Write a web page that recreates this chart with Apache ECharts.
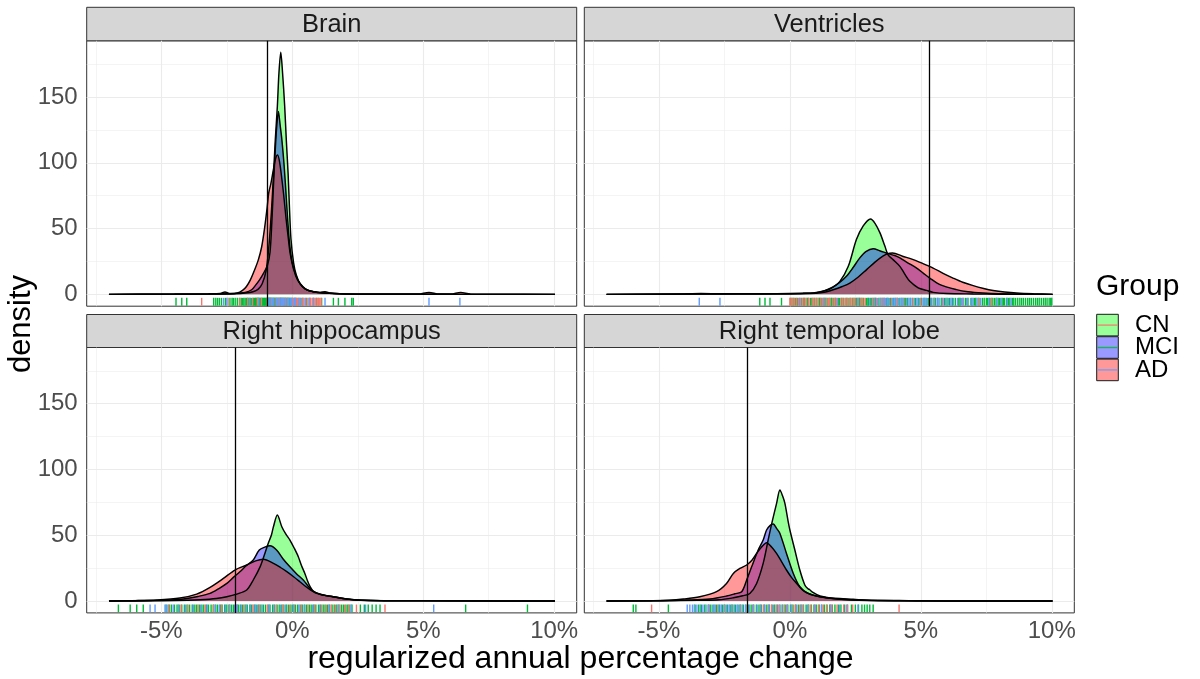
<!DOCTYPE html>
<html><head><meta charset="utf-8">
<script src="https://cdn.jsdelivr.net/npm/echarts@6/dist/echarts.min.js"></script>
<style>html,body{margin:0;padding:0;background:#fff}#c{width:1200px;height:679px}</style>
</head><body><div id="c"></div>
<script>
// ---------- data ----------
const panels = ['Brain', 'Ventricles', 'Right hippocampus', 'Right temporal lobe'];
const groups = ['CN', 'MCI', 'AD'];
const xTicks = [-5, 0, 5, 10];
const xMinor = [-7.5, -2.5, 2.5, 7.5];
const yTicks = [0, 50, 100, 150];
const yMinor = [25, 75, 125, 175];
const refLines = [-0.94, 5.34, -2.19, -1.64];

// density curves [percent change, density]
const brainCN = [[-7,0],[-5,0.1],[-3,0.2],[-2.2,0.5],[-1.8,1],[-1.5,2],[-1.3,4],[-1.15,8],[-1.0,18],[-0.9,35],[-0.8,62],[-0.72,90],[-0.65,117],[-0.57,143],[-0.51,168],[-0.44,184],[-0.37,168],[-0.29,143],[-0.23,118],[-0.16,92],[-0.11,67],[-0.05,42],[0.05,24],[0.15,15],[0.3,8],[0.5,4],[0.8,2],[1.2,1],[2,0.3],[4,0.1],[7,0],[10.03,0]];
const brainMCI = [[-7,0],[-5,0.1],[-3,0.3],[-2.2,0.7],[-1.8,1.5],[-1.55,3.5],[-1.4,7],[-1.25,11],[-1.1,16],[-0.95,22],[-0.85,32],[-0.78,55],[-0.72,82],[-0.66,106],[-0.6,126],[-0.53,139],[-0.46,128],[-0.4,118],[-0.32,100],[-0.25,80],[-0.18,58],[-0.1,38],[0.0,24],[0.15,14],[0.3,8],[0.5,4],[0.8,2],[1.2,1],[2,0.3],[4,0.1],[7,0],[10.03,0]];
const brainAD = [[-7,0],[-4.5,0.2],[-3.2,0.4],[-2.75,0.6],[-2.57,1.8],[-2.4,0.6],[-2.1,1.0],[-1.9,3],[-1.75,6],[-1.6,11],[-1.45,18],[-1.3,26],[-1.17,36],[-1.06,50],[-0.96,66],[-0.9,77],[-0.82,84],[-0.72,95],[-0.64,103],[-0.56,106],[-0.48,100],[-0.4,88],[-0.32,74],[-0.24,58],[-0.16,44],[-0.08,31],[0.05,19],[0.2,11],[0.4,6],[0.6,3],[0.85,2],[1.05,1.5],[1.25,2],[1.45,1],[1.8,0.5],[2.5,0.3],[4.8,0.2],[5.22,1.5],[5.6,0.2],[6.05,0.2],[6.43,1.5],[6.8,0.2],[8,0.1],[10.03,0]];

const ventCN = [[-7,0],[-4,0.2],[-2,0.4],[-0.5,0.5],[0.5,0.8],[0.9,1.1],[1.3,2.5],[1.59,4.8],[1.91,9.9],[2.23,21.3],[2.54,41.6],[2.8,52],[3.08,57.3],[3.25,54],[3.44,46.7],[3.63,36.5],[3.75,30],[3.94,26.4],[4.2,21.3],[4.4,15],[4.58,9.9],[4.9,5],[5.22,3],[5.47,1.5],[6,0.6],[7,0.3],[8,0.1],[10.03,0]];
const ventMCI = [[-7,0],[-4,0.3],[-3.4,0.6],[-2.6,0.5],[-1,0.4],[0,0.5],[0.6,0.8],[1.02,1.3],[1.35,3],[1.65,5.6],[1.9,9],[2.16,13.7],[2.4,20],[2.67,27.7],[2.9,32.5],[3.18,34.7],[3.45,33],[3.75,31],[4.0,29.5],[4.2,27.7],[4.5,24],[4.84,20],[5.1,16],[5.34,12.4],[5.73,7.4],[6.36,3.6],[6.8,2],[7.37,1],[8,0.4],[9,0.1],[10.03,0]];
const ventAD = [[-7,0],[-4,0.2],[-1,0.3],[0.3,0.5],[1.0,0.8],[1.3,1.5],[1.65,3.5],[2.0,6],[2.29,8.6],[2.6,13],[2.93,18.8],[3.25,24.5],[3.55,29],[3.73,31],[3.92,31.5],[4.3,29],[4.71,26.4],[5.1,23.2],[5.47,20],[5.85,16],[6.23,12.4],[6.6,9.2],[7.0,6.6],[7.4,4.5],[7.76,3],[8.2,1.8],[8.65,1],[9.3,0.4],[10.03,0]];

const hipCN = [[-7,0],[-5,0.2],[-4,0.6],[-3.52,1],[-2.9,2],[-2.5,3.3],[-2.12,5.3],[-1.74,8.4],[-1.49,16],[-1.23,26],[-1.05,36],[-0.92,43.8],[-0.8,50],[-0.72,56.5],[-0.57,65.4],[-0.4,56.5],[-0.25,51],[-0.09,46.4],[0.08,40],[0.23,33.7],[0.35,27],[0.48,21],[0.58,15.5],[0.68,10.9],[0.8,7.5],[0.93,5.8],[1.2,4.5],[1.56,3.3],[2.08,1.5],[2.6,0.6],[3.5,0.3],[5,0.2],[6.6,0.2],[8,0.1],[10.03,0]];
const hipMCI = [[-7,0],[-5.5,0.4],[-4.6,0.9],[-4.16,1.5],[-3.6,3.5],[-3.14,5.8],[-2.8,9.5],[-2.5,13.4],[-2.25,18],[-2.0,22.3],[-1.75,27],[-1.49,31.2],[-1.26,38.8],[-1.05,41],[-0.85,42],[-0.6,38.8],[-0.35,32],[-0.09,26],[0.15,21],[0.42,16],[0.6,11.5],[0.74,8.4],[1.06,5.1],[1.56,3.3],[2.0,1.8],[2.5,0.8],[3.5,0.3],[5.4,0.3],[7,0.1],[10.03,0]];
const hipAD = [[-7,0],[-6,0.3],[-5.18,0.8],[-4.29,2.3],[-3.65,5.3],[-3.14,10.4],[-2.63,17.2],[-2.19,23.6],[-1.74,27.4],[-1.4,30.5],[-1.1,31.7],[-0.72,28.6],[-0.45,25.5],[-0.21,22.3],[0.05,18.5],[0.29,14.7],[0.55,10.5],[0.8,7.1],[1.15,4.8],[1.56,3.3],[1.95,2],[2.33,1],[3,0.4],[4,0.2],[6,0.1],[10.03,0]];

const tempCN = [[-7,0],[-5,0.2],[-3.5,0.6],[-2.7,1],[-2.16,2.5],[-1.8,4],[-1.53,5.8],[-1.27,13.4],[-1.02,28.6],[-0.83,46.4],[-0.68,60],[-0.51,74],[-0.38,84.4],[-0.28,80],[-0.19,74.2],[-0.08,62],[0,54],[0.19,38.8],[0.38,23.6],[0.57,12.2],[0.68,9.5],[0.76,8.6],[0.85,7],[1.15,3.8],[1.65,2],[2.67,0.8],[4,0.3],[6,0.1],[10.03,0]];
const tempMCI = [[-7,0],[-5,0.3],[-3.9,0.8],[-3.05,1.6],[-2.42,3.8],[-2.1,5.5],[-1.84,7.1],[-1.65,16],[-1.46,26],[-1.21,38.8],[-1.02,46.4],[-0.89,54],[-0.75,57.5],[-0.64,58.5],[-0.5,55],[-0.38,51.4],[-0.13,36.2],[0.13,21],[0.38,10.9],[0.7,5.8],[1.15,3.3],[1.91,1.3],[3,0.4],[4.2,0.2],[6,0.1],[10.03,0]];
const tempAD = [[-7,0],[-5.3,0.3],[-4.6,0.6],[-4.07,1.5],[-3.44,3.3],[-2.8,7.1],[-2.42,13.4],[-2.16,21],[-1.91,24.8],[-1.65,27.4],[-1.45,31],[-1.27,36.2],[-1.08,41],[-0.89,44.3],[-0.7,41],[-0.51,36.2],[-0.32,30],[-0.13,23.6],[0.06,18],[0.26,13.4],[0.45,9],[0.64,6.3],[1.0,3.8],[1.4,2.5],[2.42,1.3],[3.2,0.5],[4.17,0.4],[5,0.1],[10.03,0]];

// rug observations (percent change)
const brainRugCN = [-3.46,-2.45,-2.0,-1.7,-1.52,-1.33,-1.18,-0.95,-0.8,-0.62,-0.55,-0.5,-0.42,-0.38,-0.28,-0.2,-0.15,0.0,0.04,0.1,0.15,0.2,0.28,0.35,0.4,0.45,0.52,0.6,0.65,0.7,0.76,0.83,0.9,0.95,1.0,1.05,1.1];
const brainRugMCI = [-4.44,-4.22,-4.03,-3.0,-2.92,-2.85,-2.78,-2.7,-2.55,-2.38,-2.3,-2.25,-2.18,-2.1,-2.02,-1.95,-1.9,-1.85,-1.8,-1.75,-1.72,-1.68,-1.63,-1.6,-1.55,-1.5,-1.48,-1.45,-1.42,-1.4,-1.38,-1.35,-1.32,-1.3,-1.27,-1.25,-1.22,-1.2,-1.17,-1.15,-1.12,-1.1,-1.07,-1.05,-1.02,-1.0,-0.97,-0.95,-0.93,-0.9,-0.88,-0.86,-0.84,-0.82,-0.8,-0.78,-0.75,-0.72,-0.7,-0.68,-0.66,-0.64,-0.62,-0.6,-0.57,-0.54,-0.52,-0.48,-0.46,-0.44,-0.4,-0.38,-0.35,-0.32,-0.3,-0.27,-0.25,-0.22,-0.2,-0.16,-0.12,-0.09,-0.05,0.0,0.05,0.1,0.15,0.22,0.3,0.4,0.55,0.68,0.8,0.92,1.0,1.12,1.57,1.76,2.01,2.27,2.33];
const brainRugAD = [-2.62,-2.5,-1.62,-1.28,-0.9,-0.85,-0.77,-0.74,-0.7,-0.6,-0.55,-0.47,-0.42,-0.36,-0.33,-0.26,-0.18,-0.14,-0.08,-0.02,0.08,0.12,0.25,0.35,0.5,0.65,0.82,1.25,5.22,6.4];

const ventRugCN = [0.0,0.05,0.12,0.18,0.25,0.33,0.42,0.5,0.58,0.62,0.72,0.85,0.92,1.0,1.08,1.18,1.25,1.38,1.47,1.52,1.63,1.72,1.78,1.95,2.02,2.12,2.18,2.28,2.33,2.42,2.47,2.58,2.62,2.72,2.78,2.88,3.15,3.3,3.52,3.6,3.88,4.1,4.35,4.7,5.0,5.5,5.85,6.6,7.2,7.7];
const ventRugMCI = [-1.15,-0.95,-0.76,-0.32,0.02,0.08,0.15,0.22,0.28,0.36,0.45,0.52,0.55,0.66,0.7,0.78,0.82,0.88,0.95,1.03,1.12,1.15,1.22,1.3,1.35,1.42,1.5,1.57,1.6,1.68,1.75,1.85,1.9,1.98,2.06,2.15,2.22,2.3,2.38,2.45,2.52,2.55,2.65,2.68,2.75,2.82,2.92,2.98,3.0,3.08,3.12,3.18,3.25,3.28,3.4,3.48,3.55,3.62,3.7,3.75,3.85,3.95,4.02,4.1,4.2,4.28,4.38,4.42,4.5,4.6,4.68,4.8,4.9,5.02,5.12,5.2,5.3,5.42,5.55,5.65,5.78,5.9,6.0,6.1,6.2,6.32,6.45,6.5,6.7,6.8,6.95,7.05,7.1,7.22,7.35,7.42,7.5,7.55,7.62,7.68,7.75,7.82,7.88,7.95,8.0,8.1,8.15,8.2,8.28,8.35,8.4,8.5,8.55,8.62,8.7,8.78,8.85,8.92,9.0,9.08,9.15,9.22,9.3,9.38,9.45,9.52,9.6,9.68,9.75,9.82,9.9,9.96,10.0];
const ventRugAD = [-3.46,-2.67,0.38,1.3,1.82,2.6,3.05,3.22,3.35,3.45,3.58,3.65,3.72,3.8,3.92,3.98,4.05,4.15,4.25,4.32,4.45,4.55,4.62,4.75,4.85,4.95,5.08,5.15,5.25,5.38,5.5,5.62,5.7,5.82,5.95,6.05,6.15,6.25,6.4,6.55,6.62,6.75,6.9,7.0,7.15,7.28,7.6,7.9,8.05,8.3,8.45];

const hipRugCN = [-4.72,-4.25,-3.98,-3.6,-3.32,-3.0,-2.7,-2.4,-2.1,-1.85,-1.5,-1.25,-0.95,-0.62,-0.36,-0.1,0.08,0.35,0.6,0.85,1.12,1.3,1.48,1.65,1.82,2.0,2.15,2.45,3.54];
const hipRugMCI = [-6.64,-6.19,-5.94,-5.69,-4.82,-4.7,-4.62,-4.5,-4.4,-4.32,-4.22,-4.12,-4.02,-3.92,-3.82,-3.72,-3.65,-3.55,-3.45,-3.38,-3.28,-3.2,-3.1,-3.02,-2.92,-2.85,-2.75,-2.68,-2.58,-2.5,-2.42,-2.32,-2.25,-2.15,-2.05,-1.98,-1.9,-1.8,-1.72,-1.62,-1.55,-1.45,-1.38,-1.28,-1.2,-1.1,-1.02,-0.92,-0.85,-0.75,-0.68,-0.58,-0.5,-0.4,-0.32,-0.22,-0.15,-0.05,0.02,0.12,0.2,0.3,0.38,0.48,0.55,0.65,0.72,0.82,0.9,1.0,1.08,1.18,1.25,1.35,1.42,1.52,1.6,1.7,1.78,1.88,1.95,2.05,2.12,2.2,2.28,2.6,2.75,2.9,3.05,3.2,3.35,6.62,8.98];
const hipRugAD = [-5.43,-5.24,-4.86,-4.78,-4.55,-4.35,-4.08,-3.78,-3.5,-3.25,-2.95,-2.78,-2.55,-2.38,-2.2,-2.1,-1.95,-1.76,-1.6,-1.42,-1.32,-1.15,-0.88,-0.7,-0.45,-0.25,0.05,0.25,0.45,0.78,1.05,1.4,1.75,2.25,2.8,5.4];

const tempRugCN = [-5.28,-3.1,-2.75,-2.5,-2.22,-1.9,-1.62,-1.4,-1.12,-1.0,-0.82,-0.7,-0.52,-0.4,-0.22,-0.1,0.08,0.2,0.38,0.5,0.7,0.8,0.98,1.1,1.28,1.4,1.55,1.6,1.8,2.05,2.2,2.4,4.17];
const tempRugMCI = [-5.98,-5.88,-4.64,-3.62,-3.48,-3.38,-3.25,-3.12,-3.02,-2.9,-2.8,-2.68,-2.58,-2.48,-2.38,-2.28,-2.18,-2.08,-1.98,-1.88,-1.78,-1.68,-1.58,-1.48,-1.38,-1.28,-1.18,-1.08,-0.98,-0.88,-0.78,-0.68,-0.58,-0.48,-0.38,-0.28,-0.18,-0.08,0.02,0.12,0.22,0.32,0.42,0.52,0.62,0.72,0.82,0.92,1.02,1.12,1.22,1.32,1.42,1.52,1.62,1.72,1.85,1.95,2.08,2.2,2.35,2.5,2.62,2.75,2.85,2.95,3.05,3.18];
const tempRugAD = [-3.92,-3.82,-3.72,-3.65,-3.55,-3.42,-3.32,-3.2,-3.08,-2.95,-2.85,-2.72,-2.62,-2.52,-2.42,-2.32,-2.22,-2.12,-2.02,-1.92,-1.82,-1.7,-1.55,-1.42,-1.25,-1.12,-0.95,-0.8,-0.62,-0.45,-0.3,-0.12,0.05,0.25,0.45,0.68,0.95,1.2,1.55,1.9,2.15,2.6];

// ---------- build ----------
const densities = [[brainCN, brainMCI, brainAD],[ventCN, ventMCI, ventAD],[hipCN, hipMCI, hipAD],[tempCN, tempMCI, tempAD]];
const rugs = [[brainRugCN, brainRugMCI, brainRugAD],[ventRugCN, ventRugMCI, ventRugAD],[hipRugCN, hipRugMCI, hipRugAD],[tempRugCN, tempRugMCI, tempRugAD]];
const fills = ['rgba(0,255,0,0.4)', 'rgba(0,0,255,0.4)', 'rgba(255,0,0,0.4)'];
const rugColors = ['#F8766D', '#00BA38', '#619CFF'];
const FONT = '"Liberation Sans", Arial, Helvetica, sans-serif';

const X_MIN = -7.85, X_MAX = 10.86, Y_MIN = -9, Y_MAX = 192.7, RUG_Y = -5.6;
const PL = [86.7, 584.3], PT = [40.8, 347.5], PW = 490, PH = 265.4;

const grids = [], xAxes = [], yAxes = [], series = [], graphics = [];
for (let i = 0; i < 4; i++) {
  const col = i % 2, row = Math.floor(i / 2);
  grids.push({left: PL[col], top: PT[row], width: PW, height: PH, show: true,
    backgroundColor: '#fff', borderColor: '#333333', borderWidth: 1});
  xAxes.push({type: 'value', gridIndex: i, min: X_MIN, max: X_MAX,
    axisLine: {show: false}, splitLine: {show: false},
    axisTick: {show: row === 1, customValues: xTicks, length: 4, lineStyle: {color: '#333', width: 1}},
    axisLabel: {show: row === 1, customValues: xTicks, margin: 6, fontSize: 24, color: '#4d4d4d', fontFamily: FONT,
      formatter: v => v + '%'}});
  yAxes.push({type: 'value', gridIndex: i, min: Y_MIN, max: Y_MAX,
    axisLine: {show: false}, splitLine: {show: false},
    axisTick: {show: col === 0, customValues: yTicks, length: 4, lineStyle: {color: '#333', width: 1}},
    axisLabel: {show: col === 0, customValues: yTicks, margin: 9, fontSize: 24, color: '#4d4d4d', fontFamily: FONT}});

  const gl = [];
  yTicks.forEach(v => gl.push({yAxis: v, lineStyle: {width: 1.1}}));
  yMinor.forEach(v => gl.push({yAxis: v, lineStyle: {width: 0.55}}));
  xTicks.forEach(v => gl.push({xAxis: v, lineStyle: {width: 1.1}}));
  xMinor.forEach(v => gl.push({xAxis: v, lineStyle: {width: 0.55}}));
  series.push({type: 'line', xAxisIndex: i, yAxisIndex: i, data: [], z: 1, silent: true,
    markLine: {z: 1, silent: true, symbol: ['none', 'none'], label: {show: false}, animation: false,
      lineStyle: {color: '#ebebeb', type: 'solid'}, emphasis: {disabled: true}, data: gl}});

  for (let g = 0; g < 3; g++) {
    series.push({type: 'line', name: groups[g], xAxisIndex: i, yAxisIndex: i, data: densities[i][g],
      symbol: 'none', smooth: 0.3, z: 2, silent: true,
      lineStyle: {color: '#000', width: 1.45},
      areaStyle: {color: fills[g], opacity: 1}});
  }
  for (const g of [1, 0, 2]) {
    series.push({type: 'scatter', name: groups[g] + ' rug', xAxisIndex: i, yAxisIndex: i,
      data: rugs[i][g].map(v => [v, RUG_Y]), symbol: 'rect', symbolSize: [1.4, 7.8], z: 3, silent: true,
      itemStyle: {color: rugColors[g], opacity: 1}});
  }
  series.push({type: 'line', xAxisIndex: i, yAxisIndex: i, data: [], z: 6, silent: true,
    markLine: {z: 8, silent: true, symbol: ['none', 'none'], label: {show: false}, animation: false,
      lineStyle: {color: '#000', type: 'solid', width: 1.3}, data: [{xAxis: refLines[i]}]}});

  // facet strip
  const sy = row === 0 ? 7.3 : 314.5;
  const sh = PT[row] - sy;
  graphics.push({type: 'rect', shape: {x: PL[col], y: sy, width: PW, height: sh},
    style: {fill: '#d6d6d6', stroke: '#333333', lineWidth: 1}});
  graphics.push({type: 'text', x: PL[col] + PW / 2, y: sy + sh / 2 + 0.5,
    style: {text: panels[i], font: '25.5px ' + FONT, fill: '#1a1a1a', textAlign: 'center', textVerticalAlign: 'middle'}});
}

// axis titles
graphics.push({type: 'text', x: 21, y: 324, rotation: Math.PI / 2,
  style: {text: 'density', font: '31px ' + FONT, fill: '#000', textAlign: 'center', textVerticalAlign: 'middle'}});
graphics.push({type: 'text', x: 580.5, y: 659,
  style: {text: 'regularized annual percentage change', font: '32px ' + FONT, fill: '#000', textAlign: 'center', textVerticalAlign: 'middle'}});

// legend
graphics.push({type: 'text', x: 1096, y: 287,
  style: {text: 'Group', font: '30px ' + FONT, fill: '#000', textAlign: 'left', textVerticalAlign: 'middle'}});
groups.forEach((g, k) => {
  const ky = 314.3 + k * 22.4;
  graphics.push({type: 'rect', shape: {x: 1096.7, y: ky, width: 21.6, height: 21.6},
    style: {fill: '#fff', stroke: null}});
  graphics.push({type: 'rect', shape: {x: 1096.7, y: ky, width: 21.6, height: 21.6},
    style: {fill: fills[k], stroke: '#1a1a1a', lineWidth: 1}});
  graphics.push({type: 'line', shape: {x1: 1097.5, y1: ky + 10.8, x2: 1117.5, y2: ky + 10.8},
    style: {stroke: rugColors[k], lineWidth: 1.4, opacity: 0.85}});
  graphics.push({type: 'text', x: 1135, y: ky + 11,
    style: {text: g, font: '24px ' + FONT, fill: '#000', textAlign: 'left', textVerticalAlign: 'middle'}});
});

const chart = echarts.init(document.getElementById('c'), null, {renderer: 'canvas'});
chart.setOption({
  animation: false,
  backgroundColor: '#fff',
  grid: grids, xAxis: xAxes, yAxis: yAxes, series: series, graphic: graphics
});
</script>
</body></html>
